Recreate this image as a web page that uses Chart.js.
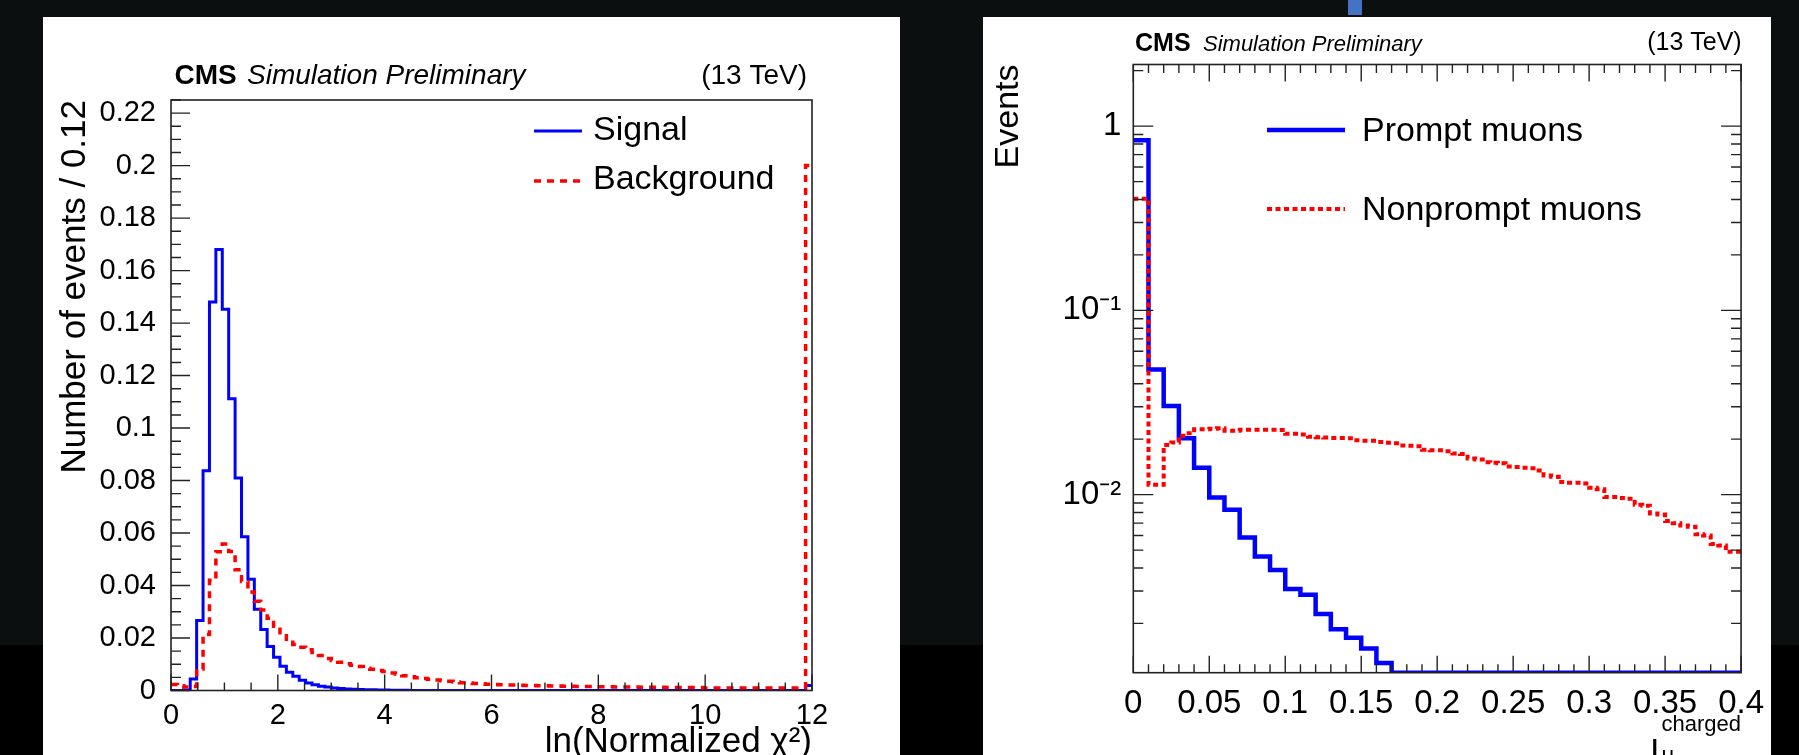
<!DOCTYPE html>
<html><head><meta charset="utf-8">
<script src="https://cdn.jsdelivr.net/npm/chart.js@4.4.1/dist/chart.umd.min.js"></script>
<style>
html,body{margin:0;padding:0;}
body{width:1799px;height:755px;overflow:hidden;background:#0c0f10;position:relative;}
#band{position:absolute;left:0;top:645px;width:1799px;height:110px;background:#000;}
#mark{position:absolute;left:1348px;top:0;width:14px;height:15px;background:#4472c4;}
.panel{position:absolute;background:#fff;overflow:hidden;}
#p1{left:43px;top:17px;width:857px;height:738px;}
#p2{left:983px;top:17px;width:788px;height:738px;}
canvas{display:block;}
</style></head>
<body>
<div id="band"></div><div id="mark"></div>
<div class="panel" id="p1"><canvas id="c1" width="857" height="738"></canvas></div>
<div class="panel" id="p2"><canvas id="c2" width="788" height="738"></canvas></div>
<script>
// ---------------- Left panel data ----------------
const L_BIN_WIDTH = 0.12;
const L_SIGNAL = [
  0, 0, 0.0002, 0.0044, 0.0267, 0.0837, 0.148, 0.168, 0.1453, 0.1112,
  0.081, 0.0586, 0.0424, 0.031, 0.0232, 0.0168, 0.0127, 0.0092, 0.0070, 0.0054,
  0.0039, 0.0029, 0.0022, 0.0016, 0.0013, 0.0010, 0.0008, 0.0006, 0.0005, 0.0004,
  0.0003, 0.0003, 0.0002, 0.0002, 0.0001, 0.0001, 0.0001, 0, 0, 0,
  0, 0, 0, 0, 0, 0, 0, 0, 0, 0,
  0, 0, 0, 0, 0, 0, 0, 0, 0, 0,
  0, 0, 0, 0, 0, 0, 0, 0, 0, 0,
  0, 0, 0, 0, 0, 0, 0, 0, 0, 0,
  0, 0, 0, 0, 0, 0, 0, 0, 0, 0,
  0, 0, 0, 0, 0, 0, 0, 0, 0, 0.0019
];
const L_BACKGROUND = [
  0.0023, 0.0018, 0.0013, 0.0015, 0.0082, 0.0213, 0.042, 0.0529, 0.0558, 0.053,
  0.046, 0.0415, 0.0375, 0.034, 0.0307, 0.0275, 0.0245, 0.022, 0.0195, 0.0175,
  0.0165, 0.0155, 0.0145, 0.0133, 0.0122, 0.0114, 0.0108, 0.0102, 0.0096, 0.0091,
  0.0085, 0.0081, 0.0076, 0.0072, 0.0067, 0.0063, 0.0056, 0.0052, 0.0049, 0.0046,
  0.0043, 0.0040, 0.0037, 0.0035, 0.0032, 0.0030, 0.0029, 0.0027, 0.0026, 0.0024,
  0.0023, 0.0022, 0.0021, 0.0021, 0.0020, 0.0019, 0.0019, 0.0018, 0.0018, 0.0017,
  0.0017, 0.0016, 0.0016, 0.0015, 0.0015, 0.0015, 0.0014, 0.0014, 0.0014, 0.0013,
  0.0013, 0.0013, 0.0013, 0.0012, 0.0012, 0.0012, 0.0012, 0.0011, 0.0011, 0.0011,
  0.0011, 0.0011, 0.0011, 0.0010, 0.0010, 0.0010, 0.0010, 0.0010, 0.0010, 0.0010,
  0.0010, 0.0010, 0.0010, 0.0010, 0.0010, 0.0010, 0.0010, 0.0010, 0.0010, 0.2
];
const L_X_TICKS = [0, 2, 4, 6, 8, 10, 12];
const L_X_LABELS = ['0', '2', '4', '6', '8', '10', '12'];
const L_Y_TICKS = [0, 0.02, 0.04, 0.06, 0.08, 0.1, 0.12, 0.14, 0.16, 0.18, 0.2, 0.22];
const L_Y_LABELS = ['0', '0.02', '0.04', '0.06', '0.08', '0.1', '0.12', '0.14', '0.16', '0.18', '0.2', '0.22'];

// ---------------- Right panel data ----------------
const R_PROMPT_BIN_WIDTH = 0.01;
const R_PROMPT = [
  0.838, 0.0478, 0.0303, 0.0202, 0.0140, 0.00966, 0.00828, 0.00585, 0.00461, 0.0039,
  0.00307, 0.00286, 0.00225, 0.00186, 0.00167, 0.00146, 0.00122, 0, 0, 0,
  0, 0, 0, 0, 0, 0, 0, 0, 0, 0,
  0, 0, 0, 0, 0, 0, 0, 0, 0, 0
];
const R_NONPROMPT_BIN_WIDTH = 0.005;
const R_NONPROMPT = [
  0.404, 0.404, 0.0113, 0.0113, 0.0186, 0.0192, 0.0209, 0.0215, 0.0226, 0.0226,
  0.0228, 0.0229, 0.0222, 0.0222, 0.0225, 0.0225, 0.0225, 0.0225, 0.0225, 0.0224,
  0.0214, 0.0214, 0.0212, 0.0206, 0.0205, 0.0204, 0.0203, 0.0203, 0.0202, 0.0197,
  0.0196, 0.0196, 0.0193, 0.0191, 0.0190, 0.0185, 0.0184, 0.0183, 0.0175, 0.0174,
  0.0174, 0.0172, 0.0167, 0.0166, 0.0157, 0.0155, 0.0150, 0.0149, 0.0148, 0.0142,
  0.0141, 0.0140, 0.0139, 0.0135, 0.0127, 0.0125, 0.0117, 0.0116, 0.0116, 0.0115,
  0.0109, 0.0107, 0.0097, 0.0097, 0.0096, 0.0095, 0.0088, 0.0087, 0.0079, 0.0078,
  0.0072, 0.0070, 0.0068, 0.0067, 0.0061, 0.0060, 0.0054, 0.0053, 0.0049, 0.0049
];
const R_X_TICKS = [0, 0.05, 0.1, 0.15, 0.2, 0.25, 0.3, 0.35, 0.4];
const R_X_LABELS = ['0', '0.05', '0.1', '0.15', '0.2', '0.25', '0.3', '0.35', '0.4'];
const R_Y_TICKS = [0.01, 0.1, 1];
const R_Y_LABELS = ['10\u207B\u00B2', '10\u207B\u00B9', '1'];
const R_Y_MIN = 0.00108, R_Y_MAX = 2.16;

// ---------------- helpers ----------------
const FONT = '"Liberation Sans", Arial, Helvetica, sans-serif';

function histPoints(values, width, floor) {
  const pts = values.map((v, i) => ({ x: i * width, y: floor !== undefined && !(v > 0) ? floor : v }));
  pts.push({ x: values.length * width, y: pts[pts.length - 1].y });
  return pts;
}
function labelFor(ticks, labels) {
  return (value) => {
    const i = ticks.findIndex(t => Math.abs(t - value) < 1e-9 * Math.max(1, Math.abs(t)) + 1e-12);
    return i >= 0 ? labels[i] : '';
  };
}
function steps(a, b, step) {
  const out = [];
  const n = Math.round((b - a) / step);
  for (let i = 0; i <= n; i++) out.push(a + i * step);
  return out;
}
function logMinors(min, max) {
  const out = [];
  for (let e = -4; e <= 1; e++) for (let k = 2; k <= 9; k++) {
    const v = k * Math.pow(10, e);
    if (v >= min && v <= max) out.push(v);
  }
  return out;
}

function axesPlugin(cfg) {
  return {
    id: 'rootAxes',
    afterDatasetsDraw(chart) {
      const { ctx, chartArea: a, scales: { x, y } } = chart;
      ctx.save();
      ctx.setLineDash([]);
      ctx.strokeStyle = cfg.color;
      ctx.lineWidth = cfg.tickWidth;
      ctx.beginPath();
      const doX = (vals, len) => vals.forEach(v => {
        const px = x.getPixelForValue(v);
        if (px < a.left - 0.5 || px > a.right + 0.5) return;
        if (cfg.xSides.includes('bottom')) { ctx.moveTo(px, a.bottom); ctx.lineTo(px, a.bottom - len); }
        if (cfg.xSides.includes('top')) { ctx.moveTo(px, a.top); ctx.lineTo(px, a.top + len); }
      });
      const doY = (vals, len) => vals.forEach(v => {
        const py = y.getPixelForValue(v);
        if (py < a.top - 0.5 || py > a.bottom + 0.5) return;
        if (cfg.ySides.includes('left')) { ctx.moveTo(a.left, py); ctx.lineTo(a.left + len, py); }
        if (cfg.ySides.includes('right')) { ctx.moveTo(a.right, py); ctx.lineTo(a.right - len, py); }
      });
      doX(cfg.xMajor, cfg.xMajorLen); doX(cfg.xMinor, cfg.xMinorLen);
      doY(cfg.yMajor, cfg.yMajorLen); doY(cfg.yMinor, cfg.yMinorLen);
      ctx.stroke();
      ctx.lineWidth = cfg.frameWidth;
      ctx.strokeRect(a.left, a.top, a.right - a.left, a.bottom - a.top);
      ctx.restore();
    }
  };
}
function textPlugin(cfg) {
  return {
    id: 'rootText',
    afterDraw(chart) {
      const ctx = chart.ctx;
      ctx.save();
      (cfg.lines || []).forEach(l => {
        ctx.beginPath();
        ctx.strokeStyle = l.color; ctx.lineWidth = l.width; ctx.lineCap = 'butt';
        ctx.setLineDash(l.dash || []);
        ctx.moveTo(l.x1, l.y); ctx.lineTo(l.x2, l.y); ctx.stroke();
      });
      ctx.setLineDash([]);
      (cfg.texts || []).forEach(t => {
        ctx.font = t.font; ctx.fillStyle = t.color || '#000';
        ctx.textAlign = t.align || 'left'; ctx.textBaseline = t.baseline || 'alphabetic';
        ctx.fillText(t.text, t.x, t.y);
      });
      ctx.restore();
    }
  };
}

// ---------------- Left chart ----------------
new Chart(document.getElementById('c1'), {
  type: 'line',
  data: {
    datasets: [
      { label: 'Background', data: histPoints(L_BACKGROUND, L_BIN_WIDTH), stepped: true,
        borderColor: '#ff0000', borderWidth: 3.5, borderDash: [7, 6], borderCapStyle: 'butt', borderJoinStyle: 'miter',
        pointRadius: 0, fill: false, order: 1 },
      { label: 'Signal', data: histPoints(L_SIGNAL, L_BIN_WIDTH), stepped: true,
        borderColor: '#0000ff', borderWidth: 3, borderJoinStyle: 'miter',
        pointRadius: 0, fill: false, order: 2 }
    ]
  },
  options: {
    responsive: false, animation: false, devicePixelRatio: 1,
    layout: { padding: { left: 0, top: 83, right: 88, bottom: 0 } },
    plugins: { legend: { display: false }, tooltip: { enabled: false } },
    scales: {
      x: {
        type: 'linear', min: 0, max: 12,
        grid: { display: false }, border: { display: false },
        afterBuildTicks: s => { s.ticks = L_X_TICKS.map(v => ({ value: v })); },
        afterFit: s => { s.height = 64.5; },
        ticks: { color: '#000', font: { family: FONT, size: 29, lineHeight: 1 }, padding: 3, autoSkip: false, maxRotation: 0, minRotation: 0,
                 callback: labelFor(L_X_TICKS, L_X_LABELS) },
        title: { display: true, text: 'ln(Normalized \u03C7\u00B2)', align: 'end', color: '#000',
                 font: { family: FONT, size: 35, lineHeight: 0.7 }, padding: 0 }
      },
      y: {
        type: 'linear', min: 0, max: 0.225,
        grid: { display: false }, border: { display: false },
        afterBuildTicks: s => { s.ticks = L_Y_TICKS.map(v => ({ value: v })); },
        afterFit: s => { s.width = 128; },
        ticks: { color: '#000', font: { family: FONT, size: 29 }, padding: 7, autoSkip: false,
                 callback: labelFor(L_Y_TICKS, L_Y_LABELS) },
        title: { display: true, text: 'Number of events / 0.12', align: 'end', color: '#000',
                 font: { family: FONT, size: 35, lineHeight: 1 }, padding: { top: 14.5, bottom: 0 } }
      }
    }
  },
  plugins: [
    axesPlugin({ color: '#222', tickWidth: 1.4, frameWidth: 1.6,
      xSides: ['bottom'], ySides: ['left'],
      xMajor: L_X_TICKS, xMinor: steps(0, 12, 0.5), xMajorLen: 16, xMinorLen: 8,
      yMajor: L_Y_TICKS, yMinor: steps(0, 0.225, 0.005), yMajorLen: 19, yMinorLen: 10 }),
    textPlugin({
      lines: [
        { x1: 491, x2: 539, y: 114, color: '#0000ff', width: 3 },
        { x1: 491, x2: 539, y: 164, color: '#ff0000', width: 3.5, dash: [7, 6] }
      ],
      texts: [
        { text: 'CMS', x: 131.5, y: 67, font: 'bold 28px ' + FONT },
        { text: 'Simulation Preliminary', x: 204, y: 67, font: 'italic 28px ' + FONT },
        { text: '(13 TeV)', x: 764, y: 67, font: '28px ' + FONT, align: 'right' },
        { text: 'Signal', x: 550, y: 114, font: '34px ' + FONT, baseline: 'middle' },
        { text: 'Background', x: 550, y: 163, font: '34px ' + FONT, baseline: 'middle' }
      ]
    })
  ]
});

// ---------------- Right chart ----------------
new Chart(document.getElementById('c2'), {
  type: 'line',
  data: {
    datasets: [
      { label: 'Nonprompt muons', data: histPoints(R_NONPROMPT, R_NONPROMPT_BIN_WIDTH, R_Y_MIN), stepped: true,
        borderColor: '#ff0000', borderWidth: 4, borderDash: [5, 3.5], borderCapStyle: 'butt', borderJoinStyle: 'miter',
        pointRadius: 0, fill: false, order: 1 },
      { label: 'Prompt muons', data: histPoints(R_PROMPT, R_PROMPT_BIN_WIDTH, R_Y_MIN), stepped: true,
        borderColor: '#0000ff', borderWidth: 4.5, borderJoinStyle: 'miter',
        pointRadius: 0, fill: false, order: 2 }
    ]
  },
  options: {
    responsive: false, animation: false, devicePixelRatio: 1,
    layout: { padding: { left: 0, top: 47.5, right: 29, bottom: 0 } },
    plugins: { legend: { display: false }, tooltip: { enabled: false } },
    scales: {
      x: {
        type: 'linear', min: 0, max: 0.4,
        grid: { display: false }, border: { display: false },
        afterBuildTicks: s => { s.ticks = R_X_TICKS.map(v => ({ value: v })); },
        afterFit: s => { s.height = 82.3; },
        ticks: { color: '#000', font: { family: FONT, size: 33, lineHeight: 1 }, padding: 7, autoSkip: false, maxRotation: 0, minRotation: 0,
                 callback: labelFor(R_X_TICKS, R_X_LABELS) },
        title: { display: false }
      },
      y: {
        type: 'logarithmic', min: R_Y_MIN, max: R_Y_MAX,
        grid: { display: false }, border: { display: false },
        afterBuildTicks: s => { s.ticks = R_Y_TICKS.map(v => ({ value: v })); },
        afterFit: s => { s.width = 150.3; },
        ticks: { color: '#000', font: { family: FONT, size: 33 }, padding: 4, autoSkip: false,
                 callback: labelFor(R_Y_TICKS, R_Y_LABELS) },
        title: { display: true, text: 'Events', align: 'end', color: '#000',
                 font: { family: FONT, size: 34, lineHeight: 1 }, padding: { top: 9, bottom: 0 } }
      }
    }
  },
  plugins: [
    axesPlugin({ color: '#222', tickWidth: 1.4, frameWidth: 1.6,
      xSides: ['bottom', 'top'], ySides: ['left', 'right'],
      xMajor: R_X_TICKS, xMinor: steps(0, 0.4, 0.01), xMajorLen: 17, xMinorLen: 8.5,
      yMajor: R_Y_TICKS, yMinor: logMinors(R_Y_MIN, R_Y_MAX), yMajorLen: 20, yMinorLen: 10 }),
    textPlugin({
      lines: [
        { x1: 284, x2: 362, y: 113, color: '#0000ff', width: 4.5 },
        { x1: 284, x2: 362, y: 192, color: '#ff0000', width: 4, dash: [5, 3.5] }
      ],
      texts: [
        { text: 'CMS', x: 152, y: 33.6, font: 'bold 25px ' + FONT },
        { text: 'Simulation Preliminary', x: 220, y: 33.6, font: 'italic 22px ' + FONT },
        { text: '(13 TeV)', x: 758.7, y: 33, font: '25px ' + FONT, align: 'right' },
        { text: 'Prompt muons', x: 379, y: 114.5, font: '34px ' + FONT, baseline: 'middle' },
        { text: 'Nonprompt muons', x: 379, y: 193.5, font: '34px ' + FONT, baseline: 'middle' },
        { text: 'I', x: 667, y: 745, font: '34px ' + FONT },
        { text: 'charged', x: 678.5, y: 714, font: '22px ' + FONT },
        { text: '\u03BC', x: 678.5, y: 745, font: '22px ' + FONT }
      ]
    })
  ]
});
</script>
</body></html>
